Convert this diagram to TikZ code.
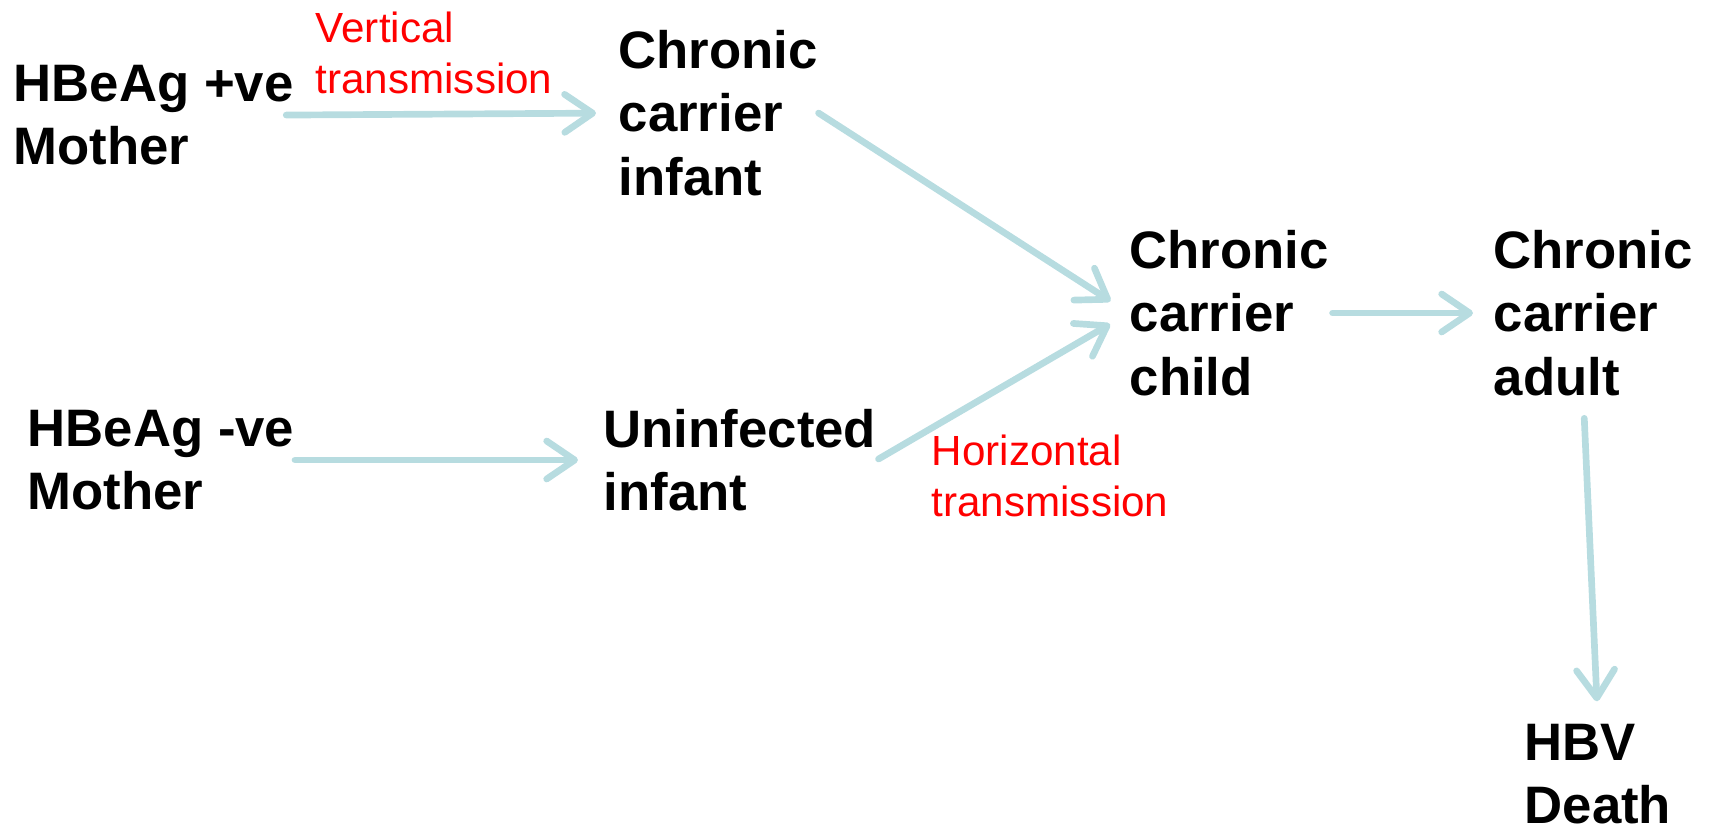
\documentclass[tikz,border=0pt]{standalone}
\usepackage{fontspec}
\setmainfont{Liberation Sans}
\usepackage{tikz}
\usetikzlibrary{arrows.meta,positioning}
\definecolor{flow}{RGB}{183,220,224}

\begin{document}
\begin{tikzpicture}[
  stage/.style={anchor=west, align=left, inner sep=0pt,
                font=\fontsize{15}{18}\selectfont\bfseries},
  route/.style={anchor=west, align=left, inner sep=0pt, text=red,
                font=\fontsize{12}{14.3}\selectfont},
  arr/.style={-{Straight Barb[length=2.8mm,width=3.8mm,round]}, color=flow,
              line width=1.9pt, line cap=round}
]
\useasboundingbox (0,0) rectangle (17.11,-8.30);

% ── Mothers ───────────────────────────
\node[stage] (pos) at (0.13,-1.15) {HBeAg +ve\\Mother};
\node[stage] (neg) at (0.27,-4.60) {HBeAg -ve\\Mother};

% ── Infants ───────────────────────────
\node[stage] (cinf)  at (6.18,-1.13) {Chronic\\carrier\\infant};
\node[stage] (uninf) at (6.03,-4.60) {Uninfected\\infant};

% ── Child, adult, death ───────────────
\node[stage] (cchild) at (11.29,-3.13) {Chronic\\carrier\\child};
\node[stage] (cadult) at (14.93,-3.13) {Chronic\\carrier\\adult};
\node[stage] (death)  at (15.24,-7.74) {HBV\\Death};

% ── Routes ────────────────────────────
\node[route] (vert)  at (3.15,-0.53) {Vertical\\transmission};
\node[route] (horiz) at (9.31,-4.76) {Horizontal\\transmission};

% ── Arrows ────────────────────────────
\draw[arr, shorten <=-0.08cm, shorten >=0.22cm] (pos.east) -- (cinf.west);
\draw[arr, shorten >=0.22cm] (cinf.east) -- (cchild.west);
\draw[arr, shorten >=0.25cm] (neg.east) -- (uninf.west);
\draw[arr, shorten <=0.02cm, shorten >=0.22cm] (uninf.east) -- (cchild.west);
\draw[arr, shorten <=0.03cm, shorten >=0.2cm] (cchild.east) -- (cadult.west);
\draw[arr, shorten <=0.22cm, shorten >=0.22cm]
  ([xshift=-0.1cm]cadult.south) -- (death.north);

\end{tikzpicture}
\end{document}
